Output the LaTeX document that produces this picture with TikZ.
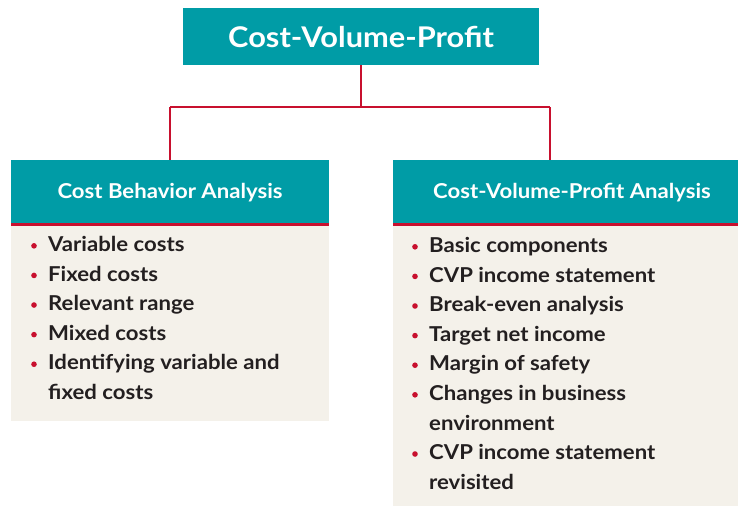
\documentclass[tikz,border=0pt]{standalone}
\usepackage{fontspec}
\setmainfont{Lato}[UprightFont=* Bold,FakeStretch=1.08]
\definecolor{teal}{HTML}{009CA6}
\definecolor{cvpred}{HTML}{C8102E}
\definecolor{bodybg}{HTML}{F4F1EA}
\definecolor{ink}{HTML}{231F20}
\newcommand{\bul}{\makebox[17pt][l]{\tikz[baseline=0pt]\fill[cvpred] (2.8pt,5.6pt) circle (2.8pt);}}
\newcommand{\cont}{\hspace*{17pt}}
\begin{document}
\begin{tikzpicture}[x=1pt,y=1pt,
  hdr/.style={fill=teal,text=white,inner sep=0pt,anchor=north west},
  hdrtext/.style={text=white,inner sep=0pt,font=\fontsize{20.5}{24}\selectfont},
  bodybox/.style={fill=bodybg,inner sep=0pt,anchor=north west},
  items/.style={text=ink,align=left,anchor=north west,inner sep=0pt,font=\fontsize{20.5}{29.6}\selectfont},
  conn/.style={draw=cvpred,line width=2pt},
  redline/.style={draw=cvpred,line width=2.2pt}]
\useasboundingbox (0,0) rectangle (738,-506);
\node[fill=teal,text=white,minimum width=356pt,minimum height=57pt,inner sep=0pt,font=\fontsize{28.5}{32}\selectfont] (top) at (361,-36.5) {Cost-Volume-Profit};
% left box
\node[bodybox,minimum width=318pt,minimum height=197pt] (lb) at (11,-224) {};
\node[hdr,minimum width=318pt,minimum height=64pt] (lh) at (11,-160) {};
\node[hdrtext] (lht) at (170,-192.5) {Cost Behavior Analysis};
\draw[redline] (lh.south west) -- (lh.south east);
\node[items] (li) at (31,-236) {\bul Variable costs\\ \bul Fixed costs\\ \bul Relevant range\\ \bul Mixed costs\\ \bul Identifying variable and\\ \cont fixed costs};
% right box
\node[bodybox,minimum width=345pt,minimum height=282pt] (rb) at (393,-224) {};
\node[hdr,minimum width=345pt,minimum height=64pt] (rh) at (393,-160) {};
\node[hdrtext] (rht) at (572,-192.5) {Cost-Volume-Profit Analysis};
\draw[redline] (rh.south west) -- (rh.south east);
\node[items] (ri) at (412,-237) {\bul Basic components\\ \bul CVP income statement\\ \bul Break-even analysis\\ \bul Target net income\\ \bul Margin of safety\\ \bul Changes in business\\ \cont environment\\ \bul CVP income statement\\ \cont revisited};
% connectors
\coordinate (jl) at (170,-107);
\coordinate (jr) at (550,-107);
\draw[conn] (top.south) -- (top.south |- jl);
\draw[conn] (jl) -- (jr);
\draw[conn] (jl) -- (jl |- lh.north);
\draw[conn] (jr) -- (jr |- rh.north);
\end{tikzpicture}
\end{document}
